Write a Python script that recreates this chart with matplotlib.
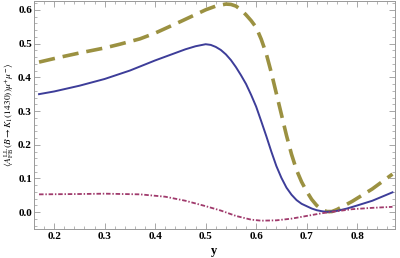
import matplotlib
matplotlib.use('Agg')
import matplotlib.pyplot as plt
from matplotlib.ticker import MultipleLocator

# values
y_solid = [0.17, 0.20, 0.25, 0.30, 0.35, 0.40, 0.44, 0.46, 0.48, 0.49, 0.50,
           0.51, 0.52, 0.53, 0.54, 0.55, 0.56, 0.57, 0.58, 0.59, 0.60, 0.61,
           0.62, 0.63, 0.64, 0.65, 0.66, 0.67, 0.68, 0.69, 0.70, 0.71, 0.72,
           0.73, 0.74, 0.76, 0.78, 0.80, 0.83, 0.87]
afb_solid = [0.350, 0.358, 0.375, 0.395, 0.420, 0.450, 0.472, 0.483, 0.492,
             0.495, 0.498, 0.496, 0.490, 0.481, 0.468, 0.451, 0.430, 0.406,
             0.380, 0.348, 0.313, 0.270, 0.226, 0.180, 0.137, 0.102, 0.073,
             0.052, 0.036, 0.025, 0.018, 0.011, 0.006, 0.003, 0.001, 0.004,
             0.011, 0.020, 0.034, 0.059]

y_dash = [0.17, 0.21, 0.25, 0.30, 0.33, 0.37, 0.40, 0.45, 0.50, 0.52, 0.54,
          0.55, 0.56, 0.57, 0.58, 0.59, 0.60, 0.61, 0.62, 0.63, 0.64, 0.65,
          0.66, 0.67, 0.68, 0.69, 0.70, 0.71, 0.72, 0.73, 0.74, 0.75, 0.76,
          0.79, 0.83, 0.87]
afb_dash = [0.445, 0.459, 0.472, 0.487, 0.498, 0.514, 0.531, 0.565, 0.600,
            0.611, 0.617, 0.616, 0.611, 0.600, 0.585, 0.568, 0.548, 0.513,
            0.470, 0.414, 0.352, 0.290, 0.228, 0.172, 0.125, 0.090, 0.062,
            0.038, 0.020, 0.008, 0.002, 0.002, 0.008, 0.032, 0.069, 0.113]

y_dot = [0.17, 0.25, 0.30, 0.37, 0.42, 0.46, 0.50, 0.53, 0.56, 0.59, 0.61,
         0.64, 0.67, 0.70, 0.73, 0.76, 0.79, 0.83, 0.87]
afb_dot = [0.053, 0.054, 0.055, 0.053, 0.046, 0.034, 0.018, 0.005, -0.011,
           -0.022, -0.025, -0.024, -0.019, -0.011, -0.003, 0.003, 0.009,
           0.013, 0.016]

plt.rcParams['font.family'] = ['Liberation Serif', 'DejaVu Serif']
plt.rcParams['mathtext.fontset'] = 'stix'

fig = plt.figure(figsize=(4.0, 2.58), dpi=100)
ax = fig.add_axes([0.085, 0.112, 0.9025, 0.884])

ax.plot(y_dash, afb_dash, color='#9b9141', lw=2.6, dashes=(4.5, 2.2))
ax.plot(y_solid, afb_solid, color='#3d3d99', lw=1.4)
ax.plot(y_dot, afb_dot, color='#a03a6c', lw=1.3, dashes=(2.5, 1.0, 0.8, 1.0))

ax.set_xlim(0.16, 0.875)
ax.set_ylim(-0.05, 0.626)
ax.xaxis.set_major_locator(MultipleLocator(0.1))
ax.xaxis.set_minor_locator(MultipleLocator(0.02))
ax.yaxis.set_major_locator(MultipleLocator(0.1))
ax.yaxis.set_minor_locator(MultipleLocator(0.02))
ax.xaxis.set_major_formatter(lambda v, p: '%.1f' % v)
ax.yaxis.set_major_formatter(lambda v, p: '%.1f' % (0.0 if abs(v) < 1e-9 else v))

ax.tick_params(which='both', direction='in', top=True, right=True,
               color='#999999', labelsize=8, pad=2)
ax.tick_params(axis='y', pad=1.5)
ax.tick_params(which='major', length=4, width=0.6)
ax.tick_params(which='minor', length=2, width=0.5)
for lab in ax.get_xticklabels() + ax.get_yticklabels():
    lab.set_fontweight('bold')
for s in ax.spines.values():
    s.set_color('#999999')
    s.set_linewidth(0.7)

ax.set_xlabel('y', fontsize=9, fontweight='bold')
ax.xaxis.set_label_coords(0.5, -0.07)
ax.set_ylabel(r'$\langle A^{\rm LL}_{\rm FB}(B\rightarrow K_1(1430))\mu^{+}\mu^{-}\rangle$',
              fontsize=6.8)
ax.yaxis.set_label_coords(-0.05, 0.5)

fig.savefig('out.png', dpi=100)
